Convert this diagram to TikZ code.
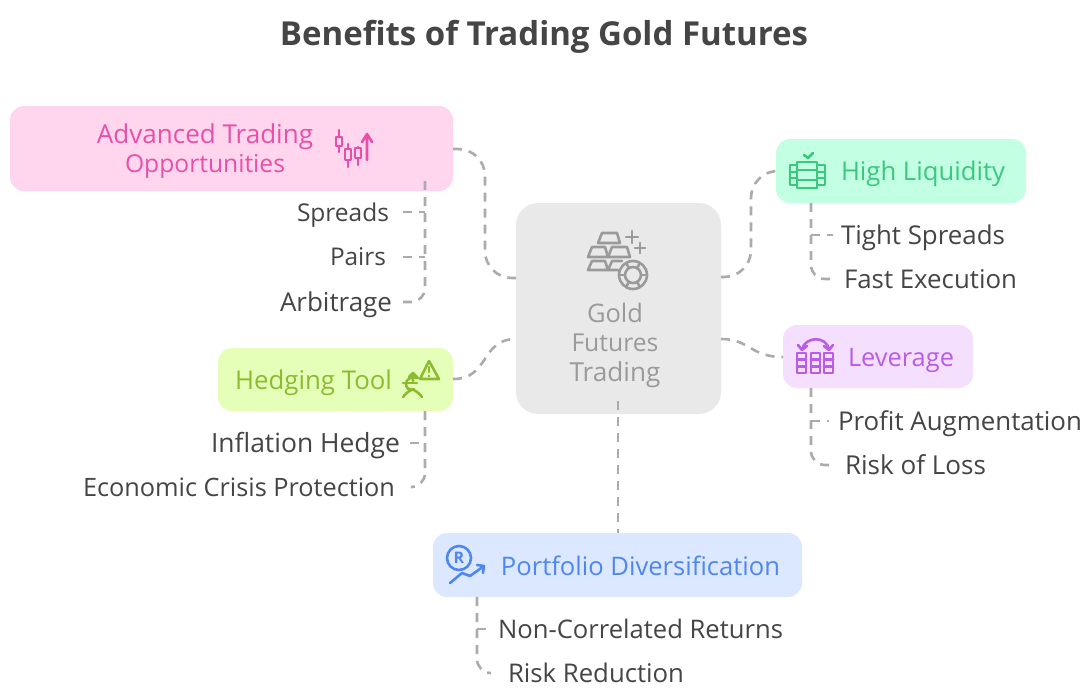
\documentclass[tikz,border=0pt]{standalone}
\usepackage{fontspec}
\usepackage{graphicx}
\setmainfont{Open Sans}
\newcommand{\fitw}[2]{\resizebox{#1pt}{!}{\fontsize{24pt}{28pt}\selectfont\rule[-5.8pt]{0pt}{29.3pt}#2}}
\definecolor{cInk}{HTML}{454545}
\definecolor{cLine}{HTML}{ABABAB}
\definecolor{cPink}{HTML}{FFD6EE}\definecolor{cPinkT}{HTML}{E84FA8}
\definecolor{cMint}{HTML}{C2FFE3}\definecolor{cMintT}{HTML}{3CC77F}
\definecolor{cLil}{HTML}{F5DFFF}\definecolor{cLilT}{HTML}{B95CE6}
\definecolor{cLime}{HTML}{E6FFB8}\definecolor{cLimeT}{HTML}{8CBB30}
\definecolor{cBlue}{HTML}{DCE8FF}\definecolor{cBlueT}{HTML}{4F87EE}
\definecolor{cGray}{HTML}{E9E9E9}\definecolor{cGrayT}{HTML}{9A9A9A}
\tikzset{
 boxn/.style={inner sep=0pt,outer sep=0pt,rounded corners=14pt},
 lbl/.style={inner sep=0pt,outer sep=0pt,text=cInk},
 captext/.style={inner sep=0pt,outer sep=0pt},
 conn/.style={draw=cLine,line width=2.6pt,dash pattern=on 9pt off 7pt,rounded corners=14pt},
 hub/.style={conn,rounded corners=27pt},
 ico/.style={line width=2.6pt,line cap=round,line join=round},
}
\begin{document}
\begin{tikzpicture}[x=1pt,y=-1pt]
\useasboundingbox (0,0) rectangle (1090,691);
\fill[white] (0,0) rectangle (1090,691);
% boxes
\node[boxn,fill=cGray,rounded corners=22pt,minimum width=205pt,minimum height=211pt] (center) at (618.5,308.5) {};
\node[boxn,fill=cPink,minimum width=443pt,minimum height=85pt] (adv) at (231.5,148.5) {};
\node[boxn,fill=cMint,minimum width=250pt,minimum height=64pt] (high) at (901,171) {};
\node[boxn,fill=cLil,minimum width=190pt,minimum height=63pt] (lev) at (878,356.5) {};
\node[boxn,fill=cLime,minimum width=235pt,minimum height=63pt] (hedge) at (335.5,379.5) {};
\node[boxn,fill=cBlue,minimum width=369pt,minimum height=64pt] (port) at (617.5,565) {};
% title
\node[captext,text=cInk] (title) at (544,33) {\fitw{528}{\bfseries Benefits of Trading Gold Futures}};
% captions
\node[captext,text=cPinkT] (advA) at (205,134) {\fitw{216}{Advanced Trading}};
\node[captext,text=cPinkT] (advB) at (205,163) {\fitw{160}{Opportunities}};
\node[captext,text=cMintT] (highT) at (923,171) {\fitw{164}{High Liquidity}};
\node[captext,text=cLilT] (levT) at (901,357) {\fitw{106}{Leverage}};
\node[captext,text=cLimeT] (hedgeT) at (313.5,380) {\fitw{157}{Hedging Tool}};
\node[captext,text=cBlueT] (portT) at (640.5,566) {\fitw{279}{Portfolio Diversification}};
\node[captext,text=cGrayT] (g1) at (615,313) {\fitw{56}{Gold}};
\node[captext,text=cGrayT] (g2) at (615,342) {\fitw{87}{Futures}};
\node[captext,text=cGrayT] (g3) at (615,372) {\fitw{91}{Trading}};
% leaf labels
\node[lbl,anchor=east,outer xsep=14pt] (spreads) at (403,212) {\fitw{92}{Spreads}};
\node[lbl,anchor=east,outer xsep=17pt] (pairs) at (403,257) {\fitw{56}{Pairs}};
\node[lbl,anchor=east,outer xsep=11pt] (arb) at (403,302) {\fitw{112}{Arbitrage}};
\node[lbl,anchor=west,outer xsep=8pt] (tight) at (833,235) {\fitw{164}{Tight Spreads}};
\node[lbl,anchor=west,outer xsep=9pt] (fast) at (835,279) {\fitw{173}{Fast Execution}};
\node[lbl,anchor=west,outer xsep=9pt] (profit) at (829,421) {\fitw{244}{Profit Augmentation}};
\node[lbl,anchor=west,outer xsep=10pt] (rloss) at (835,465) {\fitw{141}{Risk of Loss}};
\node[lbl,anchor=east,outer xsep=10pt] (infl) at (410,443) {\fitw{189}{Inflation Hedge}};
\node[lbl,anchor=east,outer xsep=17pt] (econ) at (412,487) {\fitw{312}{Economic Crisis Protection}};
\node[lbl,anchor=west,outer xsep=8pt] (noncor) at (490,629) {\fitw{285}{Non-Correlated Returns}};
\node[lbl,anchor=west,outer xsep=17pt] (rred) at (491,673) {\fitw{176}{Risk Reduction}};
% junction coordinates
\coordinate (advOut) at (453,149);
\coordinate (cenL1) at (516,278);
\coordinate (cenR1) at (721,277);
\coordinate (highIn) at (776,171);
\coordinate (cenR2) at (721,339);
\coordinate (levIn) at (783,357);
\coordinate (hedgeOut) at (453,379);
\coordinate (cenL2) at (516,339);
\coordinate (cenB) at (618,401);
\coordinate (portTop) at (618,533);
\coordinate (advB1) at (425,181);
\coordinate (highB) at (811,203);
\coordinate (levB) at (811,388);
\coordinate (hedgeB) at (425,411);
\coordinate (portB) at (477,597);
% hub connectors
\draw[hub] (advOut) -- (485,149) -- (485,278) -- (cenL1);
\draw[hub] (cenR1) -- (751,277) -- (751,171) -- (highIn);
\draw[conn,rounded corners=0pt] (cenR2) .. controls (750,339) and (750,357) .. (levIn);
\draw[conn,rounded corners=0pt] (hedgeOut) .. controls (490,379) and (480,339) .. (cenL2);
\draw[conn] (cenB) -- (portTop);
% leaf connectors
\draw[conn] (advB1) -- (425,302) -- (arb.east);
\draw[conn] (spreads.east) -- (425,212);
\draw[conn] (pairs.east) -- (425,257);
\draw[conn] (highB) -- (811,279) -- (fast.west);
\draw[conn] (811,235) -- (tight.west);
\draw[conn] (levB) -- (811,465) -- (rloss.west);
\draw[conn] (811,421) -- (profit.west);
\draw[conn] (hedgeB) -- (425,487) -- (econ.east);
\draw[conn] (infl.east) -- (425,443);
\draw[conn] (portB) -- (477,673) -- (rred.west);
\draw[conn] (477,629) -- (noncor.west);
% icon: candles
\begin{scope}[ico,draw=cPinkT]
\draw (339,130)--(339,137) (339,146)--(339,152);
\draw (336,137) rectangle (342,146);
\draw (348,144)--(348,149) (348,160)--(348,167);
\draw (345,149) rectangle (351,160);
\draw (358,147)--(358,148) (358,158)--(358,165);
\draw (355,148) rectangle (361,158);
\draw (367,160)--(367,134) (362,142)--(367,134)--(372,142);
\end{scope}
% icon: gold
\begin{scope}[ico,draw=cGrayT]
\draw (598,243)--(602,233)--(617,233)--(620,243)--cycle;
\draw (588,257)--(592,247)--(605,247)--(608,257)--cycle;
\draw (608,257)--(612,247)--(627,247)--(630,257)--cycle;
\draw (588,270)--(592,261)--(605,261)--(608,270)--cycle;
\draw (608,270)--(612,261)--(622,261) (608,270)--(618,270);
\draw (632,231)--(632,243) (626,237)--(638,237);
\draw (640,243)--(640,253) (635,248)--(645,248);
\draw (633,275) circle (14pt) (633,275) circle (8pt);
\foreach \a in {0,60,...,300}{\draw (633,275)++(\a:8pt)--++(\a:6pt);}
\end{scope}
% icon: stacks
\begin{scope}[ico,draw=cMintT]
\draw (804,155)--(808,158)--(813,153);
\draw (797,162) rectangle (817,188);
\draw (797,170)--(817,170) (797,180)--(817,180);
\draw (797,165)--(790,165)--(790,185)--(797,185);
\draw (790,172)--(797,172) (790,178)--(797,178);
\draw (817,165)--(825,165)--(825,185)--(817,185);
\draw (817,172)--(825,172) (817,178)--(825,178);
\end{scope}
% icon: leverage
\begin{scope}[ico,draw=cLilT]
\foreach \xa/\xb in {797/806,811/820,824/833}{
 \draw (\xa,353) rectangle (\xb,373);
 \draw (\xa,359.5)--(\xb,359.5) (\xa,366.5)--(\xb,366.5);}
\draw (802,349) .. controls (806,336) and (826,336) .. (829,349);
\draw (798,345)--(802,350)--(807,346);
\draw (824,346)--(829,350)--(833,345);
\end{scope}
% icon: hedge
\begin{scope}[ico,draw=cLimeT]
\draw (429,361)--(420,379)--(439,379)--cycle;
\draw (429,367)--(429,372);
\fill[cLimeT] (429,376) circle (1.4pt);
\draw (418,378) .. controls (411,376) and (406,379) .. (406,384) .. controls (406,388) and (409,390) .. (412,390);
\draw (403,383)--(417,383);
\draw (413,381)--(413,373) (409,377)--(413,373)--(417,377);
\draw (403,397) .. controls (406,393) and (410,390) .. (414,389);
\draw (422,397) .. controls (419,393) and (415,390) .. (411,389);
\end{scope}
% icon: R
\begin{scope}[ico,draw=cBlueT]
\draw (459,558) circle (12pt);
\draw (450,583)--(462,573)--(470,576)--(484,566);
\draw (477,565)--(484,566)--(483,573);
\end{scope}
\node[captext,text=cBlueT] (regR) at (459,558) {\fontsize{16pt}{18pt}\selectfont\bfseries R};
\end{tikzpicture}
\end{document}
